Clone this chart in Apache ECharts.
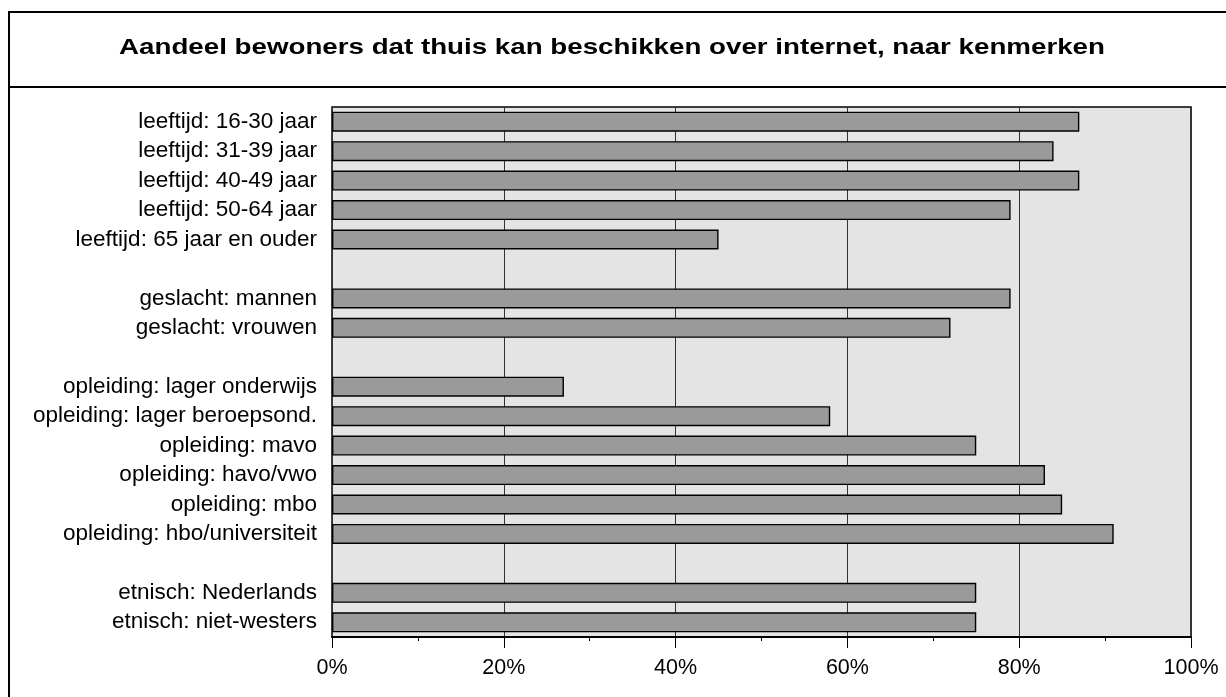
<!DOCTYPE html>
<html>
<head>
<meta charset="utf-8">
<script src="https://cdn.jsdelivr.net/npm/echarts@6/dist/echarts.min.js"></script>
<style>
  html, body { margin: 0; padding: 0; background: #fff; }
  #chart { width: 1226px; height: 697px; }
</style>
</head>
<body>
<div id="chart"></div>
<script>
// Share of residents with internet access at home, by characteristic
const titleText = 'Aandeel bewoners dat thuis kan beschikken over internet, naar kenmerken';

// Empty strings are spacer rows between the groups
const categories = [
  'leeftijd: 16-30 jaar',
  'leeftijd: 31-39 jaar',
  'leeftijd: 40-49 jaar',
  'leeftijd: 50-64 jaar',
  'leeftijd: 65 jaar en ouder',
  '',
  'geslacht: mannen',
  'geslacht: vrouwen',
  '',
  'opleiding: lager onderwijs',
  'opleiding: lager beroepsond.',
  'opleiding: mavo',
  'opleiding: havo/vwo',
  'opleiding: mbo',
  'opleiding: hbo/universiteit',
  '',
  'etnisch: Nederlands',
  'etnisch: niet-westers'
];

// Percentages
const values = [87, 84, 87, 79, 45, null, 79, 72, null, 27, 58, 75, 83, 85, 91, null, 75, 75];

const xTickSuffix = '%';

const chart = echarts.init(document.getElementById('chart'), null, { renderer: 'canvas' });

chart.setOption({
  animation: false,
  backgroundColor: '#ffffff',
  textStyle: { fontFamily: '"Liberation Sans", Arial, sans-serif' },
  graphic: [
    {
      type: 'rect',
      z: 0,
      shape: { x: 9, y: 12, width: 1240, height: 720 },
      style: { fill: 'none', stroke: '#000', lineWidth: 2 },
      silent: true
    },
    {
      type: 'line',
      z: 0,
      shape: { x1: 9, y1: 87, x2: 1226, y2: 87 },
      style: { stroke: '#000', lineWidth: 2 },
      silent: true
    },
    {
      // wide bold heading, stretched horizontally
      type: 'text',
      z: 10,
      x: 612,
      y: 48,
      scaleX: 1.26,
      style: {
        text: titleText,
        x: 0,
        y: 0,
        align: 'center',
        verticalAlign: 'middle',
        fill: '#000',
        font: 'bold 22px "Liberation Sans", Arial, sans-serif'
      },
      silent: true
    }
  ],
  grid: {
    left: 332,
    right: 35,
    top: 107,
    bottom: 60,
    show: true,
    backgroundColor: '#e4e4e4',
    borderColor: '#000',
    borderWidth: 1.5,
    containLabel: false
  },
  xAxis: {
    type: 'value',
    min: 0,
    max: 100,
    interval: 20,
    axisLine: { show: true, lineStyle: { color: '#000', width: 2 } },
    axisTick: { show: true, length: 11, lineStyle: { color: '#000', width: 1 } },
    minorTick: { show: true, splitNumber: 2, length: 4, lineStyle: { color: '#000', width: 1 } },
    splitLine: { show: true, lineStyle: { color: '#333', width: 1 } },
    axisLabel: {
      margin: 20,
      color: '#000',
      fontSize: 21.5,
      formatter: '{value}' + xTickSuffix
    }
  },
  yAxis: {
    type: 'category',
    inverse: true,
    data: categories,
    axisLine: { show: false },
    axisTick: { show: false },
    splitLine: { show: false },
    axisLabel: {
      margin: 15,
      color: '#000',
      fontSize: 22.5,
      interval: 0
    }
  },
  series: [
    {
      type: 'bar',
      data: values,
      barCategoryGap: '32%',
      itemStyle: {
        color: '#9a9a9a',
        borderColor: '#000',
        borderWidth: 1.4
      },
      z: 3
    }
  ]
});
</script>
</body>
</html>
